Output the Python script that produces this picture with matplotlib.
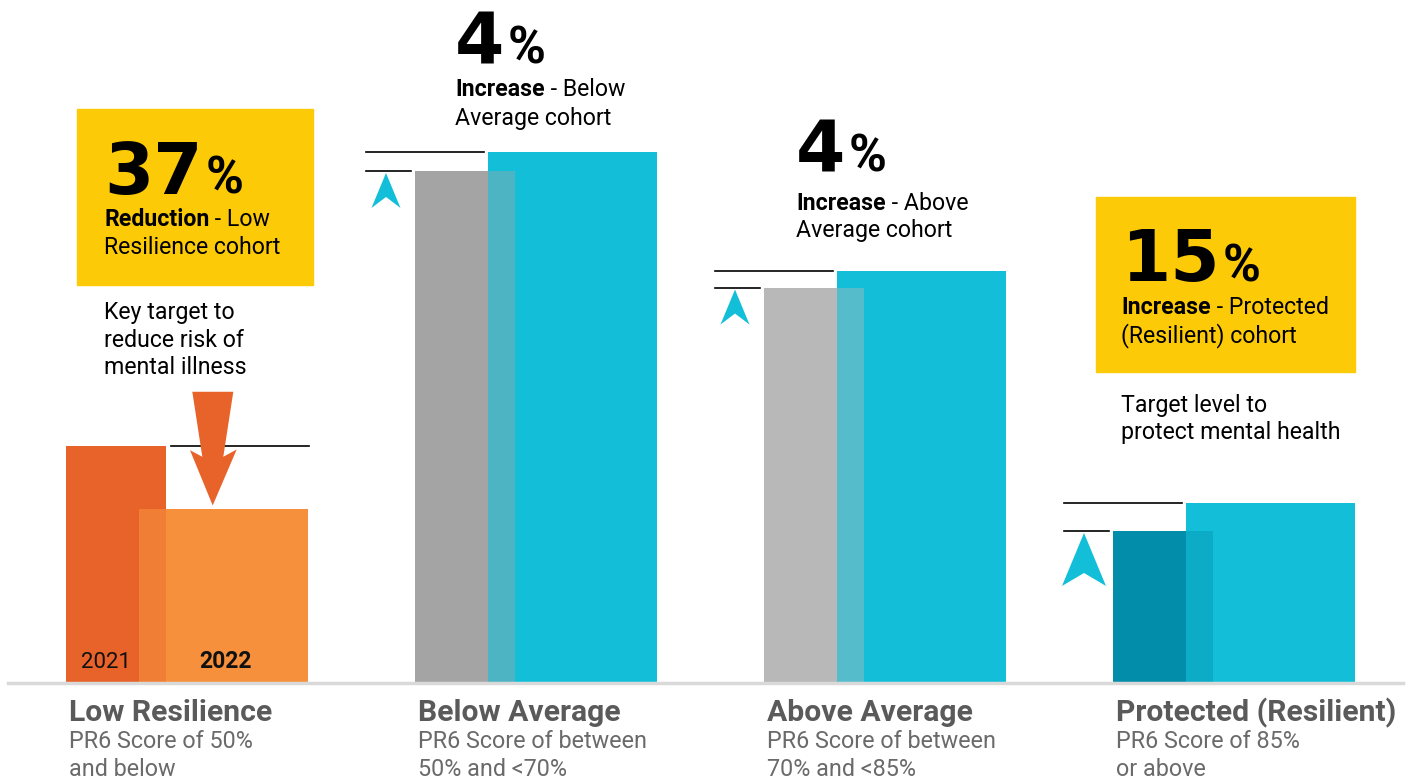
import matplotlib
matplotlib.use("Agg")
import matplotlib.pyplot as plt
from matplotlib.patches import Polygon, Rectangle

# ---- data -------------------------------------------------------------
categories = ["Low Resilience", "Below Average", "Above Average", "Protected (Resilient)"]
descriptions = [
    "PR6 Score of 50%\nand below",
    "PR6 Score of between\n50% and <70%",
    "PR6 Score of between\n70% and <85%",
    "PR6 Score of 85%\nor above",
]
share_2021 = [18.3, 39.5, 30.5, 11.7]   # % of respondents per cohort, 2021
share_2022 = [13.4, 41.0, 31.8, 13.9]   # % of respondents per cohort, 2022
years = ["2021", "2022"]

change_values = ["37", "4", "4", "15"]
change_words = ["Reduction", "Increase", "Increase", "Increase"]
change_text = [" - Low\nResilience cohort", " - Below\nAverage cohort",
               " - Above\nAverage cohort", " - Protected\n(Resilient) cohort"]
notes = ["Key target to\nreduce risk of\nmental illness", "", "",
         "Target level to\nprotect mental health"]

# ---- style ------------------------------------------------------------
colors_2021 = ["#e8632a", "#a4a4a4", "#b8b8b8", "#028eab"]
colors_2022 = ["#f6903c", "#13bfd8", "#13bfd8", "#13bfd8"]
yellow = "#fcca07"
FONT = "Roboto"
BODY = 16.7

W, H = 1416, 780
PX_X = 349.0      # pixels per category step
PX_Y = 12.95      # pixels per percentage point
LEFT0 = 66        # left edge of first group (px)
BASE = 683        # baseline (px from top)

fig = plt.figure(figsize=(W / 100, H / 100), dpi=100)
ax = fig.add_axes([0, 0, 1, 1])
ax.set_xlim(-LEFT0 / PX_X, (W - LEFT0) / PX_X)
ax.set_ylim(-(H - BASE) / PX_Y, BASE / PX_Y)
ax.axis("off")

def dx(p):
    return p / PX_X

def dy(p):           # pixel offset (downwards positive) -> data offset
    return -p / PX_Y

def fx(p):
    return p / W

def fy(p):
    return 1 - p / H

w21, w22, off22 = dx(100), dx(169), dx(73)
xs = list(range(len(categories)))

# bars: 2021 underneath, 2022 on top, then a translucent 2021 veil for the overlap
ax.bar(xs, share_2021, width=w21, align="edge", color=colors_2021, zorder=2)
ax.bar([x + off22 for x in xs], share_2022, width=w22, align="edge",
       color=colors_2022, zorder=3)
ax.bar(xs, share_2021, width=w21, align="edge", color=colors_2021, alpha=0.4,
       zorder=4, linewidth=0)

# baseline
ax.plot([dx(8 - LEFT0), dx(1403 - LEFT0)], [0, 0], color="#d9d9d9", lw=2.5, zorder=5)

# reference lines and arrows
lw = 1.2
for i in xs:
    v21, v22 = share_2021[i], share_2022[i]
    if i == 0:
        ax.plot([i + dx(105), i + dx(243)], [v21, v21], color="black", lw=lw, zorder=6)
        tipx, tipy = i + dx(146.7), v22 + (-dy(4))
        shape = [(0, 0), (24, -56), (10.6, -48.7), (20.6, -113.7),
                 (-20.4, -113.7), (-10.4, -48.7), (-22.7, -55.3)]
        pts = [(tipx + dx(a), tipy + dy(b)) for a, b in shape]
        ax.add_patch(Polygon(pts, closed=True, color=colors_2021[0], lw=0, zorder=7))
    else:
        ax.plot([i + dx(-49), i + dx(69)], [v22, v22], color="black", lw=lw, zorder=6)
        ax.plot([i + dx(-49), i + dx(-4)], [v21, v21], color="black", lw=lw, zorder=6)
        if i == 3:
            shape = [(0, 0), (22, 53), (0, 40), (-22, 53)]
        else:
            shape = [(0, 0), (14.5, 35), (0, 24), (-14.5, 35)]
        tipx, tipy = i + dx(-29), v21 + dy(1.5)
        pts = [(tipx + dx(a), tipy + dy(b)) for a, b in shape]
        ax.add_patch(Polygon(pts, closed=True, color="#13bfd8", lw=0, zorder=7))

# year labels inside the first group
fig.text(fx(81), fy(662), years[0], fontsize=16, family=FONT, color="#111111",
         ha="left", va="center")
fig.text(fx(225), fy(662), years[1], fontsize=16.5, family=FONT, weight="bold",
         color="#111111", ha="center", va="center")

# category labels
for i in xs:
    left = LEFT0 + PX_X * i + 3
    fig.text(fx(left), fy(713), categories[i], fontsize=21.7, family=FONT,
             weight="bold", color="#5a5a5a", ha="left", va="center")
    first, second = descriptions[i].split("\n")
    fig.text(fx(left), fy(742), first, fontsize=16.8,
             family=FONT, color="#6a6a6a", ha="left", va="center")
    fig.text(fx(left), fy(769), second, fontsize=16.8,
             family=FONT, color="#6a6a6a", ha="left", va="center")

# yellow callout boxes
fig.patches.append(Rectangle((fx(77), fy(285)), fx(313) - fx(77), fy(109) - fy(285),
                             transform=fig.transFigure, color=yellow, zorder=0))
fig.patches.append(Rectangle((fx(1096), fy(372)), fx(1355) - fx(1096), fy(197) - fy(372),
                             transform=fig.transFigure, color=yellow, zorder=0))

# callout texts: (left px, baseline of big number px, first line centre px)
callouts = [(104, 194, 220), (455, 64, 90), (796, 171, 203), (1121, 281, 308)]
fig.canvas.draw()
renderer = fig.canvas.get_renderer()
for i, (lx, base, line1) in enumerate(callouts):
    num = fig.text(fx(lx), fy(base), change_values[i], fontsize=51,
                   family="DejaVu Sans", weight="bold", color="black",
                   ha="left", va="baseline")
    nb = num.get_window_extent(renderer)
    fig.text((nb.x1 + 3) / W, fy(base), "%", fontsize=37, family=FONT,
             weight="bold", color="black", ha="left", va="baseline")
    first, second = change_text[i].split("\n")
    t = fig.text(fx(lx), fy(line1), change_words[i], fontsize=BODY, family=FONT,
                 weight="bold", color="black", ha="left", va="center")
    bb = t.get_window_extent(renderer)
    fig.text(bb.x1 / W, fy(line1), first, fontsize=BODY, family=FONT,
             color="black", ha="left", va="center")
    fig.text(fx(lx), fy(line1 + 28), second, fontsize=BODY, family=FONT,
             color="black", ha="left", va="center")

for i, y0 in [(0, 313), (3, 405)]:
    for k, line in enumerate(notes[i].split("\n")):
        fig.text(fx(callouts[i][0]), fy(y0 + 27.5 * k), line, fontsize=BODY,
                 family=FONT, color="black", ha="left", va="center")

fig.savefig("out.png", dpi=100)
